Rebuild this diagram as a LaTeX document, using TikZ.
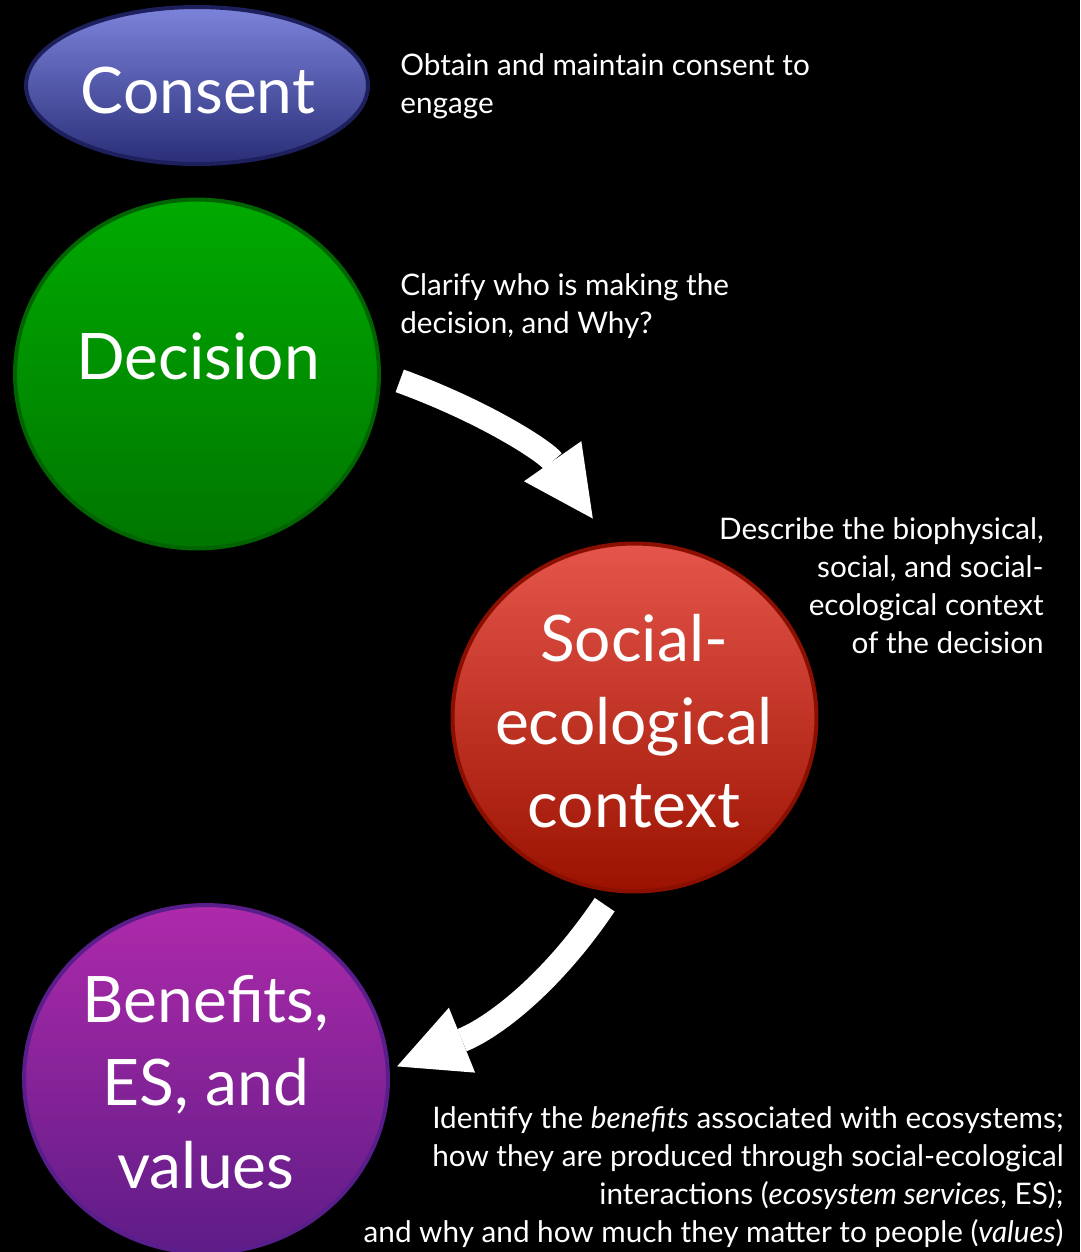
\documentclass[tikz,border=0pt]{standalone}
\usepackage{fontspec}
\setmainfont{Lato}
\usetikzlibrary{shapes.geometric,arrows.meta}

\definecolor{consentTop}{HTML}{7C83DA}
\definecolor{consentBot}{HTML}{2A2E78}
\definecolor{consentRim}{HTML}{1D205C}
\definecolor{decisionTop}{HTML}{00AA00}
\definecolor{decisionBot}{HTML}{007600}
\definecolor{decisionRim}{HTML}{006400}
\definecolor{contextTop}{HTML}{E5554B}
\definecolor{contextBot}{HTML}{9B1200}
\definecolor{contextRim}{HTML}{8A0F00}
\definecolor{valuesTop}{HTML}{AE2AAA}
\definecolor{valuesBot}{HTML}{5E1C86}
\definecolor{valuesRim}{HTML}{5A1E8C}

\newcommand{\titlefont}{\fontsize{36.5}{47.2}\selectfont}
\newcommand{\notefont}{\fontsize{16.9}{21.6}\selectfont}

\tikzset{
  bubble/.style={ellipse, line width=0.08cm, minimum width=7.28cm, minimum height=6.96cm, inner sep=0pt},
  title/.style={text=white, align=center, font=\titlefont, inner sep=0pt},
  note/.style={text=white, font=\notefont, inner sep=0pt},
  flow/.style={white, line width=0.48cm, -{Triangle[length=1.4cm, width=1.4cm, line width=0pt]}}
}

\begin{document}
\begin{tikzpicture}[x=0.02cm, y=0.02cm]
  \useasboundingbox (0,0) rectangle (1080,-1252);
  \fill[black] (0,0) rectangle (1080,-1252);

  \node[bubble, minimum width=6.84cm, minimum height=3.14cm, draw=consentRim, top color=consentTop, bottom color=consentBot] (consent) at (197,-85.5) {};
  \node[bubble, minimum height=6.98cm, draw=decisionRim, top color=decisionTop, bottom color=decisionBot] (decision) at (197,-374) {};
  \node[bubble, draw=contextRim, top color=contextTop, bottom color=contextBot] (context) at (634.5,-717.5) {};
  \node[bubble, draw=valuesRim, top color=valuesTop, bottom color=valuesBot] (values) at (206,-1079) {};

  \node[title] (consent-t) at (198,-90.5) {Consent};
  \node[title] (decision-t) at (198,-356.5) {Decision};
  \node[title] (context-t) at (634,-721) {Social-\\ecological\\context};
  \node[title] (values-t) at (206,-1082.5) {Benefits,\\ES, and\\values};

  \node[note, anchor=north west, align=left] (consent-n) at (400,-53) {Obtain and maintain consent to\\engage};
  \node[note, anchor=north west, align=left] (decision-n) at (400,-273) {Clarify who is making the\\decision, and Why?};
  \node[note, anchor=north east, align=right] (context-n) at (1044,-517) {Describe the biophysical,\\social, and social-\\ecological context\\of the decision};
  \node[note, anchor=north east, align=right] (values-n) at (1064,-1106) {Identify the \emph{benefits} associated with ecosystems;\\how they are produced through social-ecological\\interactions (\emph{ecosystem services}, ES);\\and why and how much they matter to people (\emph{values})};

  \draw[flow, shorten <=0.4cm, shorten >=0.6cm] (decision.east) to[out=-20, in=125] (context.98);
  \draw[flow, shorten <=0.3cm, shorten >=0.16cm] (context.263) to[out=236, in=22] (values.3);
\end{tikzpicture}
\end{document}
